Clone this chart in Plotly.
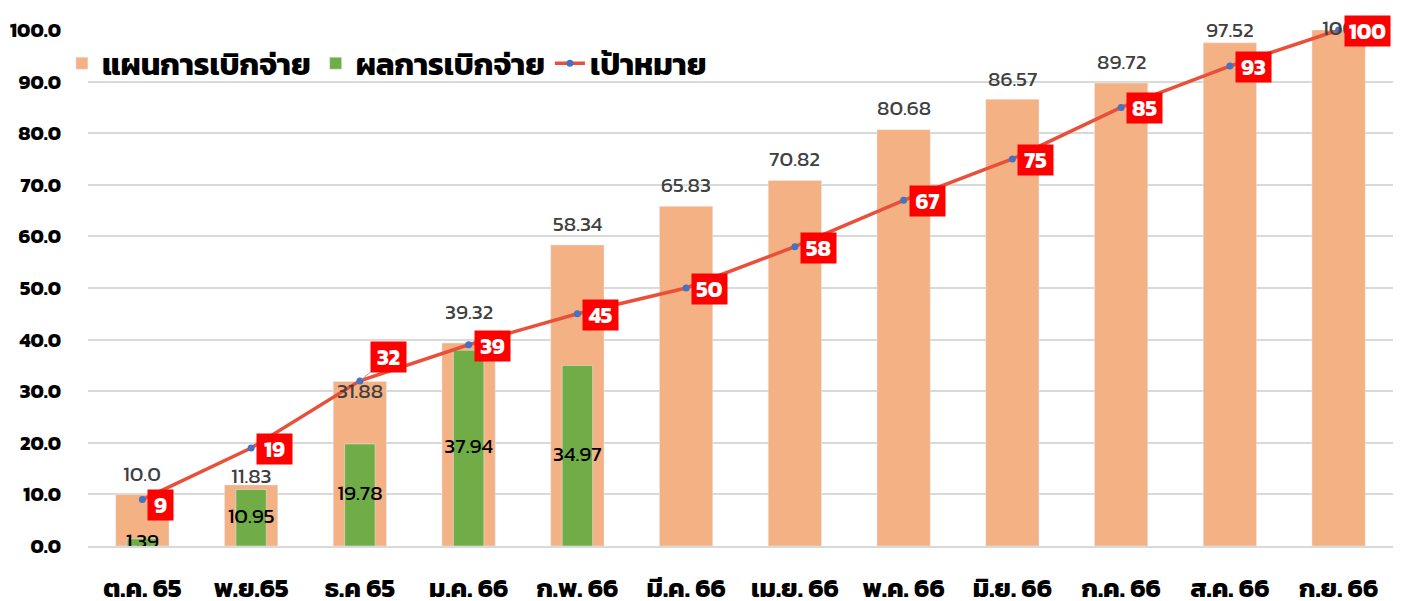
import plotly.graph_objects as go

# ---- data ----
months = ['ต.ค. 65', 'พ.ย.65', 'ธ.ค 65', 'ม.ค. 66', 'ก.พ. 66', 'มี.ค. 66',
          'เม.ย. 66', 'พ.ค. 66', 'มิ.ย. 66', 'ก.ค. 66', 'ส.ค. 66', 'ก.ย. 66']
plan = [10.0, 11.83, 31.88, 39.32, 58.34, 65.83, 70.82, 80.68, 86.57, 89.72, 97.52, 100]
plan_text = ['10.0', '11.83', '31.88', '39.32', '58.34', '65.83', '70.82',
             '80.68', '86.57', '89.72', '97.52', '100']
actual_months = months[:5]
actual = [1.39, 10.95, 19.78, 37.94, 34.97]
target = [9, 19, 32, 39, 45, 50, 58, 67, 75, 85, 93, 100]

# ---- style: vertical pixel offset of each plan label above its bar top ----
plan_label_offset_px = [21, 9, -9, 32, 21, 22, 22, 22, 21, 22, 13, 3]

FONT = "Kanit, 'Noto Sans Thai', 'Noto Sans', sans-serif"
LABEL_GRAY = '#404040'

fig = go.Figure()
fig.add_trace(go.Bar(
    x=months, y=plan, name='แผนการเบิกจ่าย', marker_color='#F4B183',
    width=0.49, cliponaxis=False,
))
fig.add_trace(go.Bar(
    x=actual_months, y=actual, name='ผลการเบิกจ่าย', marker_color='#70AD47',
    width=0.28,
))
# labels for actual values, centered inside the green bars
fig.add_trace(go.Scatter(
    x=actual_months, y=[v / 2 for v in actual], mode='text',
    text=[f'{v:.2f}' for v in actual], textposition='middle center',
    textfont=dict(size=21, color='#000000', family=FONT),
    showlegend=False, hoverinfo='skip', cliponaxis=False,
))
fig.add_trace(go.Scatter(
    x=months, y=target, name='เป้าหมาย', mode='lines+markers',
    line=dict(color='#E8503A', width=3.5),
    marker=dict(color='#4472C4', size=7), cliponaxis=False,
))

# plan value labels
for m, v, t, off in zip(months, plan, plan_text, plan_label_offset_px):
    fig.add_annotation(
        x=m, y=v, text=t, showarrow=False, yshift=off,
        xanchor='center', yanchor='middle',
        font=dict(size=21, color=LABEL_GRAY, family=FONT),
    )

# target labels in red boxes
for i, (m, t) in enumerate(zip(months, target)):
    box_w = 10 * len(str(t)) + 15
    common = dict(
        x=m, y=t, text=f'<b>{t}</b>', bgcolor='#FF0000', borderpad=0,
        width=box_w, height=30, align='center', valign='middle',
        font=dict(size=22, color='white', family=FONT),
    )
    if i == 2:
        # label pulled up-right with a leader line
        fig.add_annotation(
            showarrow=True, arrowhead=0, arrowcolor='#A6A6A6', arrowwidth=1,
            ax=29, ay=-24, standoff=2, **common,
        )
    else:
        fig.add_annotation(
            showarrow=False, xanchor='left', yanchor='middle', xshift=5,
            yshift=(-5 if i == 0 else -1), **common,
        )

fig.update_layout(
    width=1405, height=601,
    barmode='overlay',
    plot_bgcolor='white', paper_bgcolor='white',
    margin=dict(l=88, r=12, t=30, b=55),
    font=dict(family=FONT),
    legend=dict(
        orientation='h', x=-0.02, y=0.935, xanchor='left', yanchor='middle',
        font=dict(size=31, color='#000000', family=FONT, weight='bold'),
        bgcolor='rgba(0,0,0,0)', itemwidth=30,
    ),
    showlegend=True,
)
fig.update_xaxes(
    type='category', range=[-0.5, len(months) - 0.5],
    showgrid=False, showline=True, linecolor='#D9D9D9', linewidth=1.5,
    ticks='outside', ticklen=18, tickcolor='rgba(0,0,0,0)', automargin=False,
    tickfont=dict(size=26, color='#000000', family=FONT, weight='bold'),
)
fig.update_yaxes(
    range=[0, 100], dtick=10, tickformat='.1f', showgrid=True, gridcolor='#D9D9D9',
    gridwidth=1.5, zeroline=False, showline=False, automargin=False,
    ticks='outside', ticklen=22, tickcolor='rgba(0,0,0,0)',
    tickfont=dict(size=20, color='#000000', family=FONT, weight='bold'),
)

fig.write_html("out.html", post_script="document.body.style.margin='0';",
               config={'displayModeBar': False})
